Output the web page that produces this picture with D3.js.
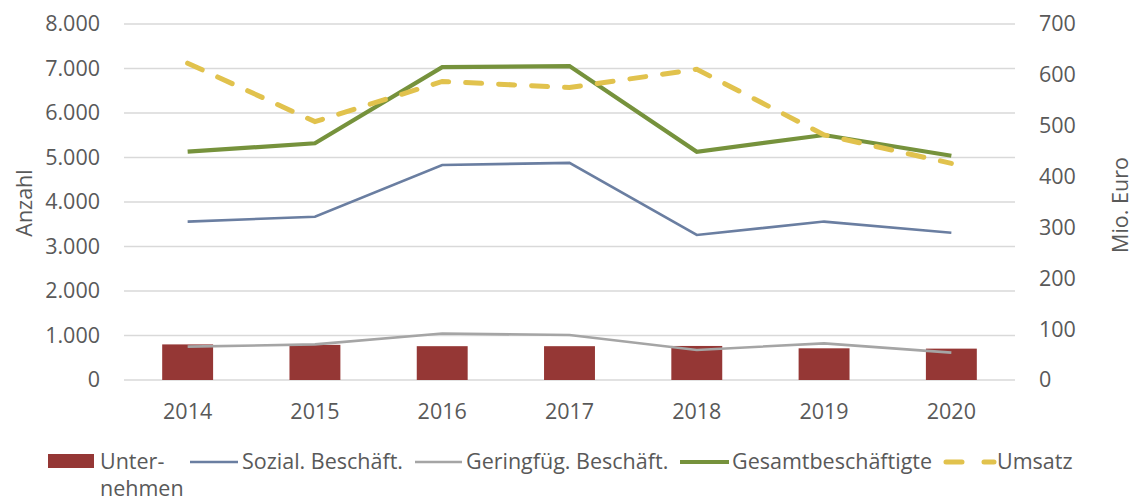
<!DOCTYPE html>
<html><head><meta charset="utf-8">
<script src="https://cdn.jsdelivr.net/npm/d3@7/dist/d3.min.js"></script>
<style>
body{margin:0;background:#fff;}
svg{display:block;font-family:"Open Sans",sans-serif;}
</style></head>
<body><svg id="c" width="1139" height="501"></svg>
<script>
const years = ["2014","2015","2016","2017","2018","2019","2020"];
const unternehmen = [800, 790, 760, 760, 765, 712, 705];
const sozial = [3560, 3670, 4830, 4880, 3260, 3560, 3310];
const geringfueg = [750, 800, 1045, 1010, 675, 824, 615];
const gesamt = [5130, 5320, 7030, 7055, 5130, 5505, 5040];
const umsatz = [623, 508, 587, 575, 611, 482, 426];
const leftTicks = [0,1000,2000,3000,4000,5000,6000,7000,8000];
const rightTicks = [0,100,200,300,400,500,600,700];

const svg = d3.select("#c");
const x0 = 124, x1 = 1015, yTop = 24, yBot = 380;
const textCol = "#595959";
const fs = "21.5px";

const x = d3.scaleBand().domain(years).range([x0,x1]).paddingInner(0.6).paddingOuter(0.3);
const xc = d => x(d) + x.bandwidth()/2;
const yL = d3.scaleLinear().domain([0,8000]).range([yBot,yTop]);
const yR = d3.scaleLinear().domain([0,700]).range([yBot,yTop]);
const fmt = d3.formatLocale({decimal:",",thousands:".",grouping:[3],currency:["","€"]}).format(",d");

// gridlines
svg.append("g").selectAll("line").data(leftTicks).join("line")
  .attr("x1",x0).attr("x2",x1).attr("y1",d=>yL(d)).attr("y2",d=>yL(d))
  .attr("stroke","#d9d9d9").attr("stroke-width",1.3);

// left axis
const gl = svg.append("g").attr("transform",`translate(${x0},0)`)
  .call(d3.axisLeft(yL).tickValues(leftTicks).tickFormat(fmt).tickSize(0).tickPadding(24));
gl.select(".domain").remove();
gl.selectAll("text").attr("font-size",fs).attr("fill",textCol).attr("font-family","Open Sans");

// right axis
const gr = svg.append("g").attr("transform",`translate(${x1},0)`)
  .call(d3.axisRight(yR).tickValues(rightTicks).tickSize(0).tickPadding(24));
gr.select(".domain").remove();
gr.selectAll("text").attr("font-size",fs).attr("fill",textCol).attr("font-family","Open Sans");

// x axis
const gx = svg.append("g").attr("transform",`translate(0,${yBot})`)
  .call(d3.axisBottom(x).tickSize(0).tickPadding(24));
gx.select(".domain").remove();
gx.selectAll("text").attr("font-size",fs).attr("fill",textCol).attr("font-family","Open Sans");

// axis titles
svg.append("text").attr("transform","translate(32,203) rotate(-90)").attr("text-anchor","middle")
  .attr("font-size",fs).attr("fill",textCol).text("Anzahl");
svg.append("text").attr("transform","translate(1128,205) rotate(-90)").attr("text-anchor","middle")
  .attr("font-size",fs).attr("fill",textCol).text("Mio. Euro");

// bars
svg.append("g").selectAll("rect").data(unternehmen).join("rect")
  .attr("x",(d,i)=>x(years[i])).attr("width",x.bandwidth())
  .attr("y",d=>yL(d)).attr("height",d=>yBot-yL(d)).attr("fill","#953735");

const line = (ys, sc) => d3.line().x((d,i)=>xc(years[i])).y(d=>sc(d))(ys);

svg.append("path").attr("d",line(geringfueg,yL)).attr("fill","none").attr("stroke","#a5a5a5").attr("stroke-width",2.6);
svg.append("path").attr("d",line(sozial,yL)).attr("fill","none").attr("stroke","#6a7ea1").attr("stroke-width",2.6);
svg.append("path").attr("d",line(gesamt,yL)).attr("fill","none").attr("stroke","#76923c").attr("stroke-width",4.2);
svg.append("path").attr("d",line(umsatz,yR)).attr("fill","none").attr("stroke","#e1c24d").attr("stroke-width",5)
  .attr("stroke-dasharray","16,17").attr("stroke-linecap","round");

// legend
const lg = svg.append("g").attr("font-size",fs).attr("fill",textCol);
lg.append("rect").attr("x",48).attr("y",454).attr("width",46).attr("height",14).attr("fill","#953735");
lg.append("text").attr("x",100).attr("y",469).text("Unter-");
lg.append("text").attr("x",100).attr("y",496).text("nehmen");
const items = [
  {x1:190,x2:238,tx:242,c:"#6a7ea1",w:2.6,t:"Sozial. Beschäft."},
  {x1:415,x2:462,tx:466,c:"#a5a5a5",w:2.6,t:"Geringfüg. Beschäft."},
  {x1:680,x2:729,tx:732,c:"#76923c",w:4.2,t:"Gesamtbeschäftigte"}
];
items.forEach(it=>{
  lg.append("line").attr("x1",it.x1).attr("x2",it.x2).attr("y1",462).attr("y2",462).attr("stroke",it.c).attr("stroke-width",it.w);
  lg.append("text").attr("x",it.tx).attr("y",469).text(it.t);
});
lg.append("line").attr("x1",946).attr("x2",994).attr("y1",462).attr("y2",462).attr("stroke","#e1c24d").attr("stroke-width",5)
  .attr("stroke-dasharray","16,22").attr("stroke-linecap","round");
lg.append("text").attr("x",997).attr("y",469).text("Umsatz");
</script></body></html>
